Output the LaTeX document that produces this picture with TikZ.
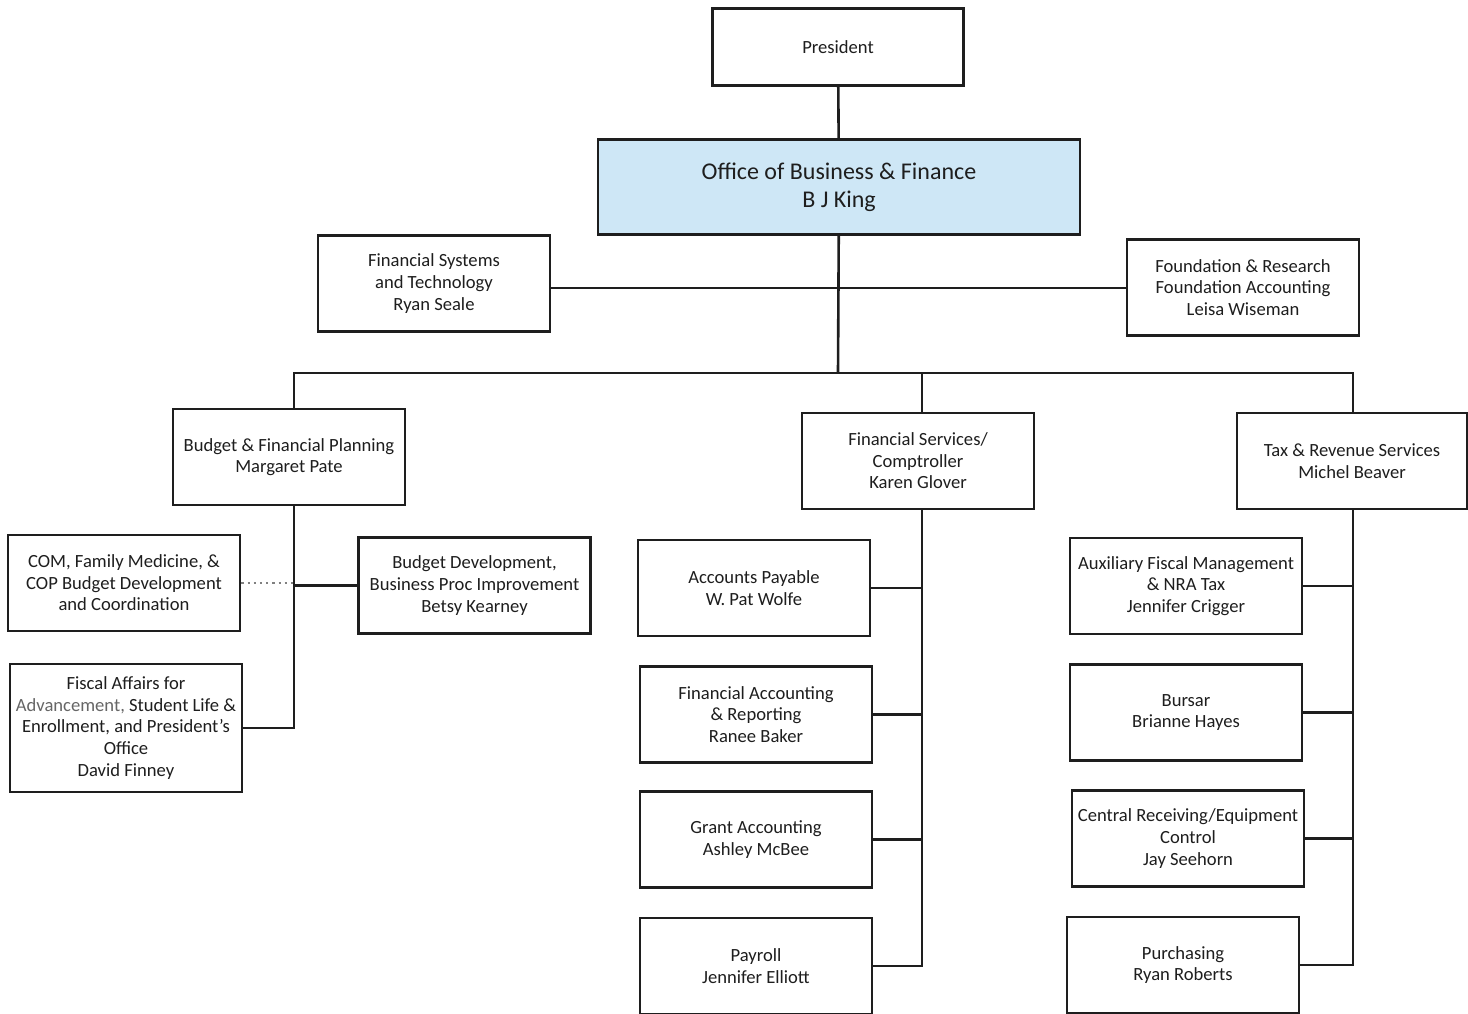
\documentclass[tikz,border=0pt]{standalone}
\usepackage{fontspec}
\setmainfont{Carlito}
\usepackage{tikz}
\definecolor{ink}{RGB}{30,30,30}
\definecolor{headblue}{RGB}{206,231,246}
\tikzset{
  unit/.style    = {draw=ink, line width=1.3pt, rectangle, fill=white,
                    minimum width=116pt, minimum height=48pt, inner sep=1pt,
                    align=center, text=ink,
                    font=\fontsize{9.3}{10.8}\selectfont},
  tall/.style    = {unit, minimum height=64pt},
  top/.style     = {unit, minimum width=125.5pt, minimum height=38.5pt},
  head/.style    = {unit, minimum width=241pt, minimum height=47.5pt,
                    fill=headblue, font=\fontsize{12}{14}\selectfont},
  link/.style    = {draw=ink, line width=1.3pt},
  dotlink/.style = {draw=gray, line width=1.1pt, dotted},
}

\begin{document}
\begin{tikzpicture}[x=0.5pt, y=-0.5pt]
  \useasboundingbox (0,0) rectangle (1468,1013);

  % ---------- top of the chart ---------------------------------------
  \node[top]  (pres) at (838,47)  {President};
  \node[head] (obf)  at (839,187) {Office of Business \& Finance\\B J King};
  \node[unit] (fst)  at (434,283.5)
    {Financial Systems\\and Technology\\Ryan Seale};
  \node[unit] (fnd)  at (1243,287.5)
    {Foundation \& Research\\Foundation Accounting\\Leisa Wiseman};
  \coordinate (side) at (838,288);
  \coordinate (bus)  at (838,373);
  \draw[link] (pres) -- (obf);
  \draw[link] (obf) -- (bus);
  \draw[link] (fst.east |- side) -- (fnd.west |- side);

  % ---------- second level -------------------------------------------
  \node[unit] (bud) at (289,457)  {Budget \& Financial Planning\\Margaret Pate};
  \node[unit] (fs)  at (918,461)  {Financial Services/\\Comptroller\\Karen Glover};
  \node[unit, minimum width=115pt] (tax) at (1352,461)
    {Tax \& Revenue Services\\Michel Beaver};
  % columns of the vertical connectors
  \coordinate (budcol) at (294,0);
  \coordinate (fscol)  at (922,0);
  \coordinate (taxcol) at (1353,0);
  \draw[link] (bud.north -| budcol) |- (bus) -| (tax.north -| taxcol);
  \draw[link] (bus) -| (fs.north -| fscol);

  % ---------- budget group -------------------------------------------
  \node[unit] (com)   at (124,583)
    {COM, Family Medicine, \&\\COP Budget Development\\and Coordination};
  \node[tall] (fis)   at (126,728)
    {Fiscal Affairs for\\\textcolor{gray!80!black}{Advancement,} Student Life \&\\Enrollment, and President's\\Office\\David Finney};
  \node[unit] (betsy) at (474.5,585.5)
    {Budget Development,\\Business Proc Improvement\\Betsy Kearney};
  \draw[link] (bud.south -| budcol) |- (fis.east);
  \draw[link] (betsy.west) -- (betsy.west -| budcol);
  \draw[dotlink] (com.east) -- (com.east -| budcol);

  % ---------- financial services group -------------------------------
  \node[unit] (ap)  at (754,588)   {Accounts Payable\\W. Pat Wolfe};
  \node[unit] (far) at (756,714.5) {Financial Accounting\\\& Reporting\\Ranee Baker};
  \node[unit] (ga)  at (756,839.5) {Grant Accounting\\Ashley McBee};
  \node[unit] (pay) at (756,966)   {Payroll\\Jennifer Elliott};
  \draw[link] (fs.south -| fscol) |- (pay.east);
  \foreach \n in {ap, far, ga}
    \draw[link] (\n.east) -- (\n.east -| fscol);

  % ---------- tax & revenue group ------------------------------------
  \node[unit] (aux) at (1186,586)   {Auxiliary Fiscal Management\\\& NRA Tax\\Jennifer Crigger};
  \node[unit] (bur) at (1186,712.5) {Bursar\\Brianne Hayes};
  \node[unit] (crc) at (1188,838.5) {Central Receiving/Equipment\\Control\\Jay Seehorn};
  \node[unit] (pur) at (1183,965)   {Purchasing\\Ryan Roberts};
  \draw[link] (tax.south -| taxcol) |- (pur.east);
  \foreach \n in {aux, bur, crc}
    \draw[link] (\n.east) -- (\n.east -| taxcol);
\end{tikzpicture}
\end{document}
